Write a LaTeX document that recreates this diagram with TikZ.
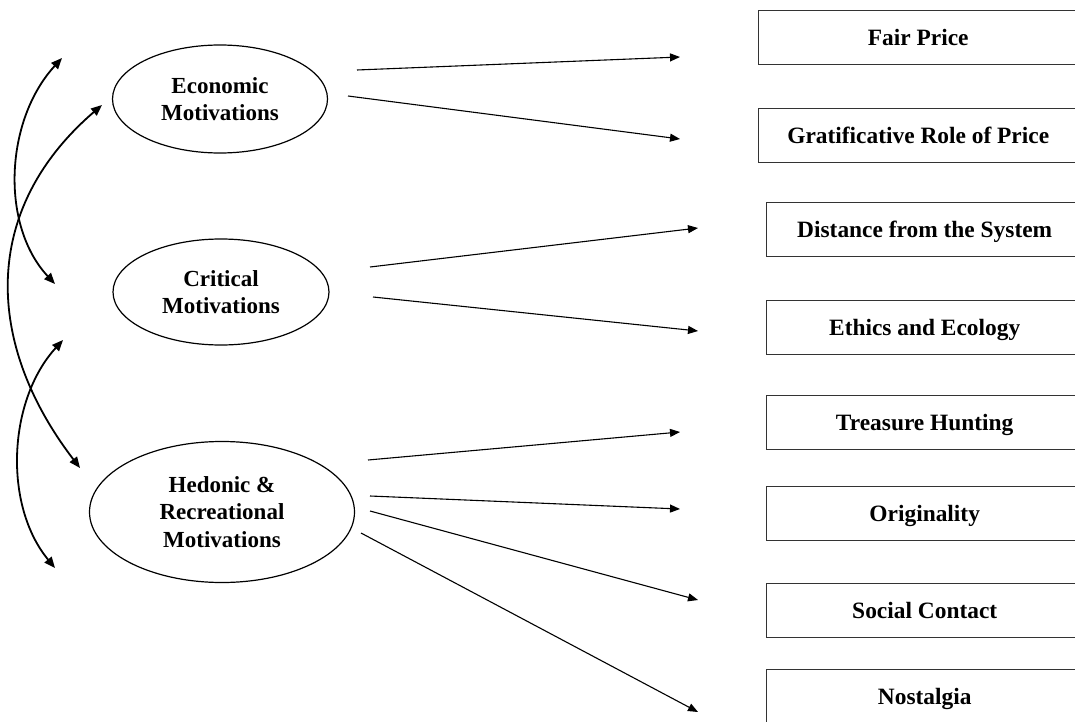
\documentclass[tikz,border=0pt]{standalone}
\usepackage{fontspec}
\setmainfont{Liberation Serif}
\usetikzlibrary{arrows.meta,shapes.geometric}
\begin{document}
\begin{tikzpicture}[x=1pt,y=-1pt,
  motive/.style={ellipse, draw, line width=1.2pt, inner sep=0pt, align=center,
    font=\bfseries\fontsize{23}{27.5}\selectfont},
  factor/.style={rectangle, draw=black!80, line width=1.4pt, anchor=north west,
    inner sep=0pt, minimum height=54pt, text height=15.5pt, text depth=0pt,
    font=\bfseries\fontsize{23.4}{27}\selectfont},
  link/.style={-{Triangle[length=10pt,width=8pt]}, line width=1.1pt},
  cov/.style={{Triangle[length=11pt,width=9pt]}-{Triangle[length=11pt,width=9pt]},
    line width=1.8pt},
]
\clip (0,0) rectangle (1075,722);
\fill[white] (0,0) rectangle (1075,722);

% latent motivations
\node[motive, minimum width=215pt, minimum height=108pt] (eco) at (220,99)
  {Economic\\Motivations};
\node[motive, minimum width=216pt, minimum height=106pt] (cri) at (221,292)
  {Critical\\Motivations};
\node[motive, minimum width=265pt, minimum height=141pt] (hed) at (222,512)
  {Hedonic \&\\Recreational\\Motivations};

% observed factors
\node[factor, minimum width=319pt] (fair) at (758,10)  {Fair Price};
\node[factor, minimum width=319pt] (grat) at (758,108) {Gratificative Role of Price};
\node[factor, minimum width=316pt] (dist) at (766,202) {Distance from the System};
\node[factor, minimum width=316pt] (ethi) at (766,300) {Ethics and Ecology};
\node[factor, minimum width=316pt] (trea) at (766,395) {Treasure Hunting};
\node[factor, minimum width=316pt] (orig) at (766,486) {Originality};
\node[factor, minimum width=316pt] (soci) at (766,583) {Social Contact};
\node[factor, minimum width=316pt] (nost) at (766,669) {Nostalgia};

% loading arrows
\coordinate (a1s) at (357,70);  \coordinate (a1e) at (680,57);
\coordinate (a2s) at (348,96);  \coordinate (a2e) at (680,139);
\coordinate (a3s) at (370,267); \coordinate (a3e) at (698,228);
\coordinate (a4s) at (373,297); \coordinate (a4e) at (698,331);
\coordinate (a5s) at (368,460); \coordinate (a5e) at (680,432);
\coordinate (a6s) at (370,496); \coordinate (a6e) at (680,509);
\coordinate (a7s) at (370,511); \coordinate (a7e) at (698,600);
\coordinate (a8s) at (361,533); \coordinate (a8e) at (698,712);
\foreach \i in {1,...,8}{\draw[link] (a\i s) -- (a\i e);}

% covariances between motivations
\coordinate (c1a) at (62,58);   \coordinate (c1b) at (55,284);
\coordinate (c2a) at (102,105); \coordinate (c2b) at (80,468);
\coordinate (c3a) at (63,340);  \coordinate (c3b) at (55,568);
\draw[cov] (c1a) .. controls (5,120) and (0,225) .. (c1b);
\draw[cov] (c2a) .. controls (-20,210) and (-15,344) .. (c2b);
\draw[cov] (c3a) .. controls (8,400) and (3,505) .. (c3b);
\end{tikzpicture}
\end{document}
